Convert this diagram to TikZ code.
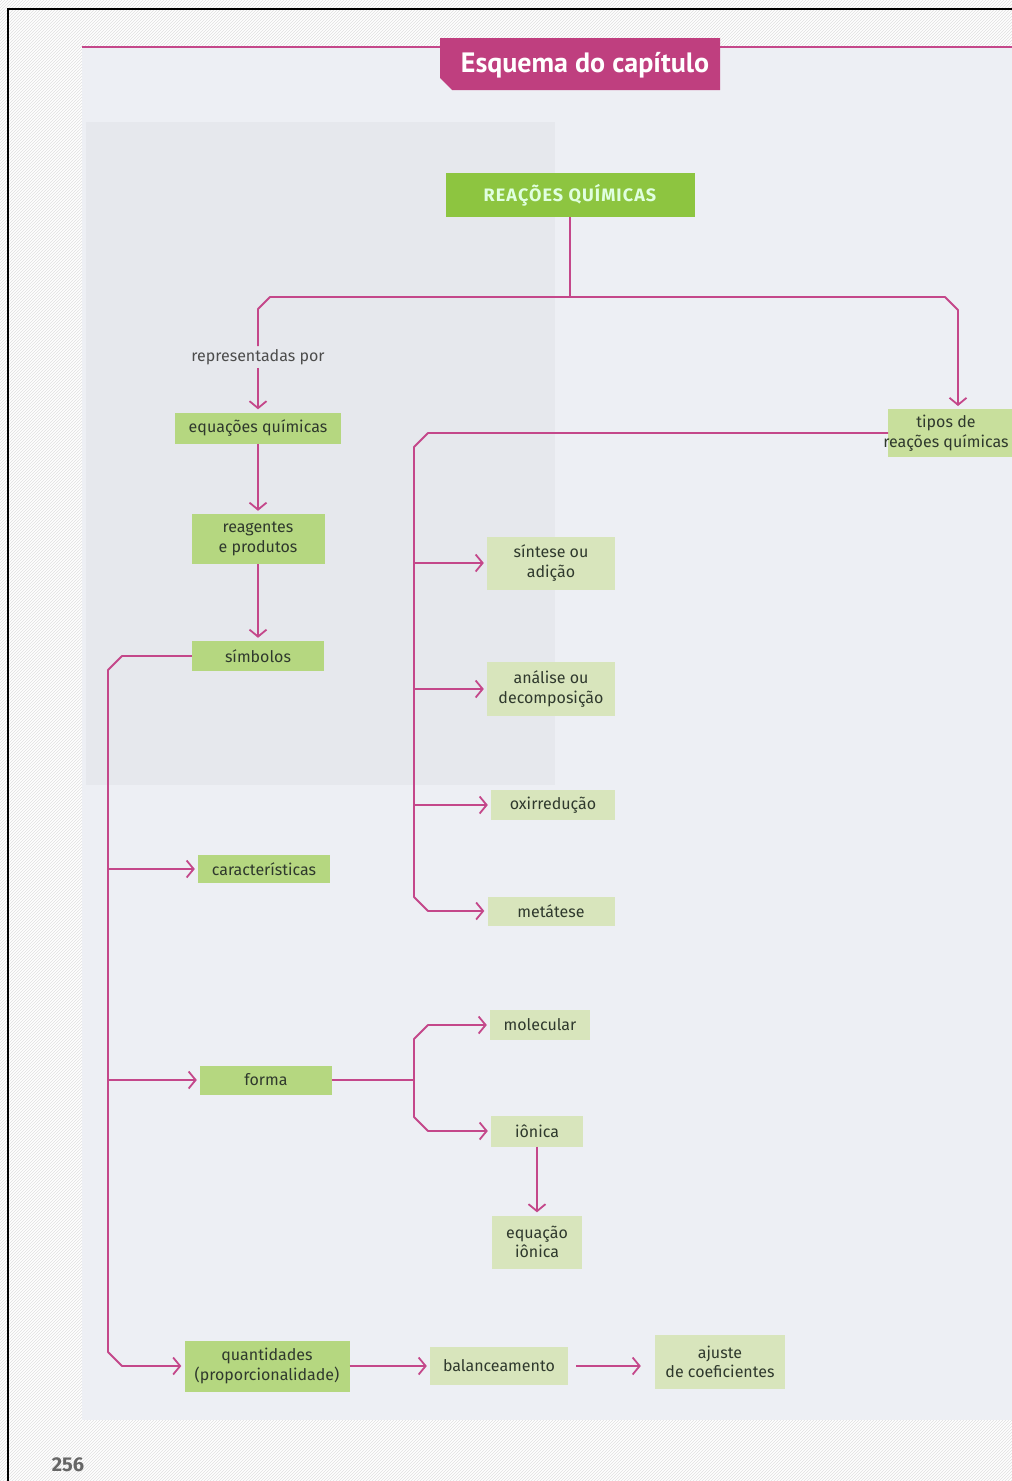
\documentclass[tikz,border=0pt]{standalone}
\usepackage{fontspec}
\setmainfont{Fira Sans}
\newfontfamily\headfont{PT Sans}
\newfontfamily\capsfont[LetterSpace=6]{Fira Sans}
\usetikzlibrary{arrows.meta,patterns,calc}
\definecolor{mag}{HTML}{C4478A}
\definecolor{hdr}{HTML}{BF3F7F}
\definecolor{gstrong}{HTML}{8DC540}
\definecolor{gleft}{HTML}{B5D780}
\definecolor{gpale}{HTML}{D8E5BC}
\definecolor{gtip}{HTML}{C8DF9C}
\definecolor{bg}{HTML}{EDEFF4}
\definecolor{bgdark}{HTML}{E6E8ED}
\definecolor{txt}{HTML}{2F392D}
\definecolor{lbl}{HTML}{4C4C4C}
\begin{document}
\begin{tikzpicture}[x=1pt,y=-1pt,
  box/.style={fill=gleft, text=txt, font=\fontsize{16}{19.5}\selectfont, align=center, inner sep=0pt},
  pbox/.style={box, fill=gpale},
  conn/.style={draw=mag, line width=1.8pt, line join=round},
  arr/.style={conn, -{Straight Barb[length=7pt,width=17pt,line width=1.8pt]}, shorten >=3pt}]
\useasboundingbox (0,0) rectangle (1012,1481);
\begin{scope}
\clip (0,0) rectangle (1012,1481);
% page background
\fill[white] (0,0) rectangle (1012,1481);
\fill[pattern=north east lines, pattern color=black!12] (0,0) rectangle (1012,1481);
\fill[bg] (82,47) rectangle (1012,1420);
\fill[bgdark] (86,122) rectangle (555,785);
\draw[black, line width=1.6pt] (8,1481) -- (8,9) -- (1012,9);
% header
\draw[mag, line width=1.6pt] (82,47) -- (1012,47);
\fill[hdr] (440,38) -- (720,38) -- (720,90) -- (452,90) -- (440,78) -- cycle;
\node[text=white, font=\headfont\bfseries\fontsize{28}{30}\selectfont, inner sep=0pt] (title) at (585,65) {Esquema do capítulo};
% nodes
\node[box, fill=gstrong, minimum width=249, minimum height=44, text=white!88!green, font=\capsfont\bfseries\fontsize{18}{20}\selectfont] (rq) at (570,195) {REAÇÕES QUÍMICAS};
\node[text=lbl, font=\fontsize{16}{19.5}\selectfont, inner sep=3pt, fill=bgdark] (rep) at (258,357) {representadas por};
\node[box, minimum width=166, minimum height=31] (eq) at (258,428) {equações químicas};
\node[box, minimum width=133, minimum height=50] (rp) at (258,539) {reagentes\\e produtos};
\node[box, minimum width=132, minimum height=30] (sim) at (258,656) {símbolos};
\node[box, minimum width=132, minimum height=28] (car) at (264,869) {características};
\node[box, minimum width=132, minimum height=29] (fo) at (266,1080) {forma};
\node[box, minimum width=165, minimum height=51] (qt) at (267,1366) {quantidades\\(proporcionalidade)};
\node[pbox, minimum width=138, minimum height=38] (bal) at (499,1366) {balanceamento};
\node[pbox, minimum width=130, minimum height=54] (aj) at (720,1362) {ajuste\\de coeficientes};
\node[pbox, minimum width=128, minimum height=53] (sin) at (551,563) {síntese ou\\adição};
\node[pbox, minimum width=128, minimum height=54] (ana) at (551,689) {análise ou\\decomposição};
\node[pbox, minimum width=124, minimum height=30] (oxi) at (553,805) {oxirredução};
\node[pbox, minimum width=127, minimum height=29] (met) at (551,911) {metátese};
\node[pbox, minimum width=100, minimum height=30] (mol) at (540,1025) {molecular};
\node[pbox, minimum width=92, minimum height=31] (ion) at (537,1131) {iônica};
\node[pbox, minimum width=90, minimum height=53] (eqi) at (537,1242) {equação\\iônica};
\node[box, fill=gtip, minimum width=140, minimum height=48, anchor=west] (tip) at (888,433) {};
\node[text=txt, font=\fontsize{16}{19.5}\selectfont, align=center, inner sep=0pt] (tiptxt) at (946,433) {tipos de\\reações químicas};
% trunk coordinates
\coordinate (j0) at (570,297);
\coordinate (lt) at (108,0);
\coordinate (rt) at (414,0);
\coordinate (tipin) at (958,409);
% top tree
\draw[conn] (rq.south) -- (j0);
\draw[conn] (j0) -- ($(eq.north |- j0)+(12,0)$) -- ($(eq.north |- j0)+(0,12)$) -- (rep.north);
\draw[arr] (rep.south) -- (eq.north);
\draw[arr] (j0) -- ($(tipin |- j0)+(-13,0)$) -- ($(tipin |- j0)+(0,13)$) -- (tipin);
% left column
\draw[arr] (eq.south) -- (rp.north);
\draw[arr] (rp.south) -- (sim.north);
\draw[arr] (sim.west) -- ($(sim.west -| lt)+(14,0)$) -- ($(sim.west -| lt)+(0,14)$) -- ($(qt.west -| lt)+(0,-14)$) -- ($(qt.west -| lt)+(14,0)$) -- (qt.west);
\draw[arr] (car.west -| lt) -- (car.west);
\draw[arr] (fo.west -| lt) -- (fo.west);
% reaction types
\draw[arr] (tip.west) -- ($(tip.west -| rt)+(14,0)$) -- ($(tip.west -| rt)+(0,14)$) -- ($(met.west -| rt)+(0,-14)$) -- ($(met.west -| rt)+(14,0)$) -- (met.west);
\draw[arr] (sin.west -| rt) -- (sin.west);
\draw[arr] (ana.west -| rt) -- (ana.west);
\draw[arr] (oxi.west -| rt) -- (oxi.west);
% forma
\draw[conn] (fo.east) -- (fo.east -| rt);
\draw[arr] (fo.east -| rt) -- ($(mol.west -| rt)+(0,14)$) -- ($(mol.west -| rt)+(14,0)$) -- (mol.west);
\draw[arr] (fo.east -| rt) -- ($(ion.west -| rt)+(0,-14)$) -- ($(ion.west -| rt)+(14,0)$) -- (ion.west);
\draw[arr] (ion.south) -- (eqi.north);
% bottom row
\draw[arr] (qt.east) -- (bal.west);
\draw[arr, shorten <=8pt, shorten >=14pt] (bal.east) -- (bal.east -| aj.west);
% page number
\node[text=black!60, font=\bfseries\fontsize{20}{22}\selectfont] (pg) at (68,1465) {256};
\end{scope}
\end{tikzpicture}
\end{document}
